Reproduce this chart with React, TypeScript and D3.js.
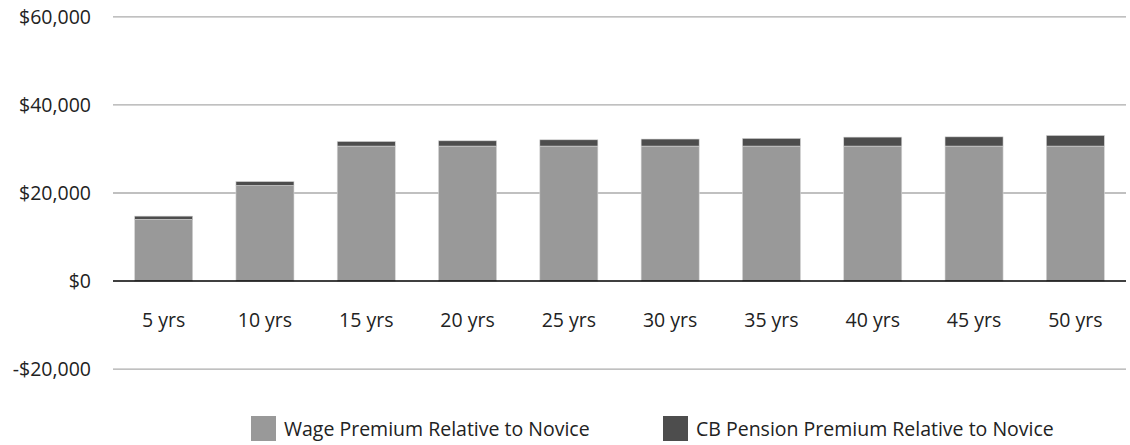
import React from "react";
import * as d3 from "d3";

const categories = ["5 yrs", "10 yrs", "15 yrs", "20 yrs", "25 yrs", "30 yrs", "35 yrs", "40 yrs", "45 yrs", "50 yrs"];
const wagePremium = [14000, 21700, 30650, 30650, 30650, 30650, 30650, 30650, 30650, 30650];
const pensionPremium = [750, 900, 1050, 1200, 1430, 1600, 1750, 2040, 2100, 2420];
const yTicks = [-20000, 0, 20000, 40000, 60000];
const seriesNames = ["Wage Premium Relative to Novice", "CB Pension Premium Relative to Novice"];
const seriesColors = ["#999999", "#4d4d4d"];

const W = 1130;
const H = 445;
const FONT = "'Open Sans', 'Noto Sans', sans-serif";
const FS = 19.5;

export default function App() {
  const x = d3.scaleBand<string>().domain(categories).range([113, 1126]).paddingInner(0.427).paddingOuter(0.2135);
  const y = d3.scaleLinear().domain([-20000, 60000]).range([369.2, 16.8]);
  const fmt = (v: number) => (v < 0 ? "-$" : "$") + d3.format(",")(Math.abs(v));

  const stacked = d3.stack<number>().keys(["w", "p"]).value((i, k) => (k === "w" ? wagePremium[i] : pensionPremium[i]))(
    categories.map((_, i) => i)
  );

  return (
    <svg width={W} height={H} style={{ position: "absolute", left: 0, top: 0 }}>
      <rect width={W} height={H} fill="#fff" />
      {yTicks.filter((t) => t !== 0).map((t) => (
        <line key={t} x1={113} x2={1126} y1={y(t)} y2={y(t)} stroke="#ababab" strokeWidth={1.3} />
      ))}
      {yTicks.map((t) => (
        <text key={"l" + t} x={91} y={y(t)} dy="0.35em" textAnchor="end" fontFamily={FONT} fontSize={FS} fill="#222">
          {fmt(t)}
        </text>
      ))}
      {stacked.map((s, si) => (
        <g key={si}>
          {s.map((d, i) => (
            <rect
              key={i}
              x={x(categories[i])}
              width={x.bandwidth()}
              y={y(d[1])}
              height={y(d[0]) - y(d[1])}
              fill={seriesColors[si]}
              stroke="#d6d6d6"
              strokeWidth={0.6}
            />
          ))}
        </g>
      ))}
      <line x1={113} x2={1126} y1={y(0)} y2={y(0)} stroke="#000" strokeWidth={1.5} />
      {categories.map((c) => (
        <text key={c} x={(x(c) as number) + x.bandwidth() / 2} y={327} textAnchor="middle" fontFamily={FONT} fontSize={FS} fill="#222">
          {c}
        </text>
      ))}
      {seriesNames.map((n, i) => {
        const sx = i === 0 ? 251 : 663;
        return (
          <g key={n}>
            <rect x={sx} y={416} width={25} height={25} fill={seriesColors[i]} />
            <text x={sx + 33} y={435.5} fontFamily={FONT} fontSize={FS} fill="#222">
              {n}
            </text>
          </g>
        );
      })}
    </svg>
  );
}
